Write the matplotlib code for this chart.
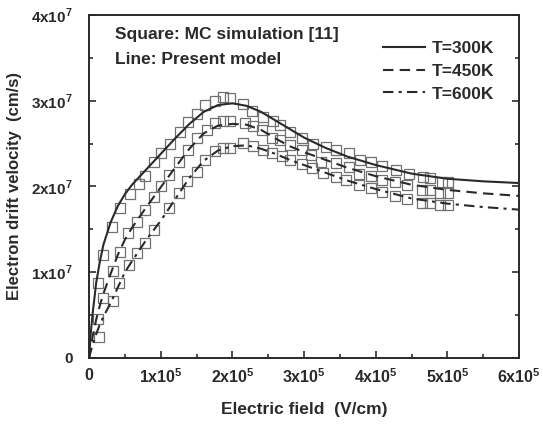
import matplotlib
matplotlib.use("Agg")
import matplotlib.pyplot as plt
from matplotlib.ticker import MultipleLocator, FuncFormatter

plt.rcParams['font.family'] = ['Liberation Sans', 'DejaVu Sans']
plt.rcParams['font.weight'] = 'bold'
plt.rcParams['axes.labelweight'] = 'bold'
plt.rcParams['mathtext.fontset'] = 'custom'
plt.rcParams['mathtext.rm'] = 'Liberation Sans:bold'
plt.rcParams['mathtext.bf'] = 'Liberation Sans:bold'

# model curves (field in 1e5 V/cm, velocity in 1e7 cm/s)
field_model = [0, 0.025, 0.05, 0.1, 0.15, 0.2, 0.3, 0.4, 0.5, 0.6, 0.8, 1.0, 1.2, 1.4, 1.6, 1.8,
               2.0, 2.2, 2.4, 2.6, 2.8, 3.0, 3.3, 3.6, 4.0, 4.5, 5.0, 5.5, 6.0]
v_300 = [0, 0.30, 0.52, 0.88, 1.12, 1.32, 1.58, 1.77, 1.91, 2.02, 2.20, 2.38, 2.56, 2.73, 2.87, 2.95,
         2.97, 2.94, 2.87, 2.77, 2.67, 2.57, 2.45, 2.35, 2.25, 2.15, 2.09, 2.06, 2.04]
v_450 = [0, 0.13, 0.25, 0.45, 0.61, 0.75, 0.98, 1.20, 1.38, 1.52, 1.76, 1.99, 2.22, 2.44, 2.62, 2.71,
         2.73, 2.72, 2.66, 2.56, 2.47, 2.40, 2.31, 2.22, 2.12, 2.02, 1.96, 1.92, 1.89]
v_600 = [0, 0.08, 0.15, 0.28, 0.39, 0.48, 0.64, 0.82, 1.00, 1.13, 1.38, 1.60, 1.85, 2.10, 2.30, 2.42,
         2.47, 2.48, 2.44, 2.38, 2.31, 2.25, 2.16, 2.07, 1.97, 1.86, 1.80, 1.76, 1.73]

# MC simulation points
mc_e_300 = [0.12, 0.19, 0.32, 0.43, 0.57, 0.69, 0.78, 0.90, 1.01, 1.13, 1.27, 1.38, 1.50,
            1.62, 1.76, 1.87, 1.97, 2.15, 2.28, 2.42, 2.56, 2.66, 2.80, 2.97, 3.13, 3.31,
            3.45, 3.62, 3.78, 3.94, 4.09, 4.28, 4.46, 4.66, 4.76, 4.92, 5.01]
mc_v_300 = [0.87, 1.20, 1.53, 1.75, 1.91, 2.03, 2.12, 2.29, 2.39, 2.50, 2.64, 2.75, 2.85,
            2.95, 3.00, 3.04, 3.03, 2.96, 2.88, 2.81, 2.76, 2.72, 2.64, 2.56, 2.50, 2.46,
            2.43, 2.39, 2.31, 2.28, 2.24, 2.19, 2.15, 2.11, 2.10, 2.05, 2.05]
mc_e_450 = [0.12, 0.19, 0.33, 0.43, 0.55, 0.67, 0.78, 0.90, 1.01, 1.11, 1.25, 1.38, 1.50,
            1.64, 1.76, 1.87, 1.97, 2.18, 2.29, 2.41, 2.55, 2.66, 2.80, 2.97, 3.10, 3.24,
            3.45, 3.62, 3.76, 3.94, 4.09, 4.27, 4.44, 4.65, 4.76, 4.90, 5.01]
mc_v_450 = [0.46, 0.70, 1.01, 1.24, 1.46, 1.59, 1.73, 1.88, 2.00, 2.13, 2.29, 2.43, 2.56,
            2.66, 2.74, 2.76, 2.76, 2.74, 2.70, 2.66, 2.56, 2.54, 2.48, 2.43, 2.37, 2.29,
            2.27, 2.23, 2.15, 2.12, 2.08, 2.05, 2.02, 1.96, 1.96, 1.92, 1.92]
mc_e_600 = [0.14, 0.33, 0.42, 0.56, 0.67, 0.78, 0.90, 1.11, 1.25, 1.36, 1.50, 1.62, 1.76,
            1.87, 1.97, 2.15, 2.29, 2.43, 2.55, 2.69, 2.80, 2.97, 3.11, 3.27, 3.45, 3.59,
            3.76, 3.94, 4.09, 4.27, 4.44, 4.65, 4.76, 4.90, 5.01]
mc_v_600 = [0.25, 0.66, 0.87, 1.08, 1.22, 1.34, 1.49, 1.75, 1.92, 2.06, 2.17, 2.31, 2.41,
            2.45, 2.45, 2.51, 2.47, 2.43, 2.39, 2.35, 2.31, 2.26, 2.21, 2.16, 2.11, 2.07,
            2.02, 1.98, 1.94, 1.89, 1.85, 1.81, 1.81, 1.78, 1.78]

dark = '#2a2a2a'
fig = plt.figure(figsize=(5.43, 4.28), dpi=100)
ax = fig.add_axes([0.164, 0.1636, 0.792, 0.8014])

sq = dict(marker='s', mfc='none', mec='#707070', mew=0.9, ms=6.5, ls='none')
ax.plot([e * 1e5 for e in mc_e_300], [v * 1e7 for v in mc_v_300], **sq)
ax.plot([e * 1e5 for e in mc_e_450], [v * 1e7 for v in mc_v_450], **sq)
ax.plot([e * 1e5 for e in mc_e_600], [v * 1e7 for v in mc_v_600], **sq)

fx = [e * 1e5 for e in field_model]
ax.plot(fx, [v * 1e7 for v in v_300], color=dark, lw=1.5, ls='-', label='T=300K')
ax.plot(fx, [v * 1e7 for v in v_450], color=dark, lw=1.5, ls=(0, (5, 3)), label='T=450K')
ax.plot(fx, [v * 1e7 for v in v_600], color=dark, lw=1.5, ls=(0, (5, 2.5, 1.5, 2.5)), label='T=600K')

ax.set_xlim(0, 6e5)
ax.set_ylim(0, 4e7)
ax.xaxis.set_major_locator(MultipleLocator(1e5))
ax.xaxis.set_minor_locator(MultipleLocator(0.5e5))
ax.yaxis.set_major_locator(MultipleLocator(1e7))
ax.yaxis.set_minor_locator(MultipleLocator(0.5e7))


def fmt(exp):
    def f(val, pos):
        n = int(round(val / 10 ** exp))
        return '0' if n == 0 else r'%dx10$^{%d}$' % (n, exp)
    return f


ax.xaxis.set_major_formatter(FuncFormatter(fmt(5)))
ax.yaxis.set_major_formatter(FuncFormatter(fmt(7)))
ax.tick_params(which='both', direction='in', right=True, colors=dark, width=1.2)
ax.tick_params(axis='x', labelsize=11.5)
ax.tick_params(axis='y', labelsize=11)
ax.tick_params(which='major', length=5)
ax.tick_params(which='minor', length=3)
ax.tick_params(axis='x', which='major', pad=7)
ax.tick_params(axis='y', which='major', pad=11.5)
for s in ax.spines.values():
    s.set_color(dark)
    s.set_linewidth(1.4)

ax.set_xlabel('Electric field  (V/cm)', fontsize=12.5, color=dark, labelpad=11)
ax.set_ylabel('Electron drift velocity  (cm/s)', fontsize=12, color=dark, labelpad=7)

ax.text(0.06, 0.942, 'Square: MC simulation [11]', transform=ax.transAxes,
        fontsize=12.5, color=dark, va='center')
ax.text(0.06, 0.869, 'Line: Present model', transform=ax.transAxes,
        fontsize=12.5, color=dark, va='center')

leg = ax.legend(loc='upper right', bbox_to_anchor=(0.967, 0.956), frameon=False,
                fontsize=12.5, handlelength=2.4, handletextpad=0.4, labelspacing=0.45,
                borderaxespad=0.2)
for t in leg.get_texts():
    t.set_color(dark)

fig.savefig('out.png', dpi=100)
